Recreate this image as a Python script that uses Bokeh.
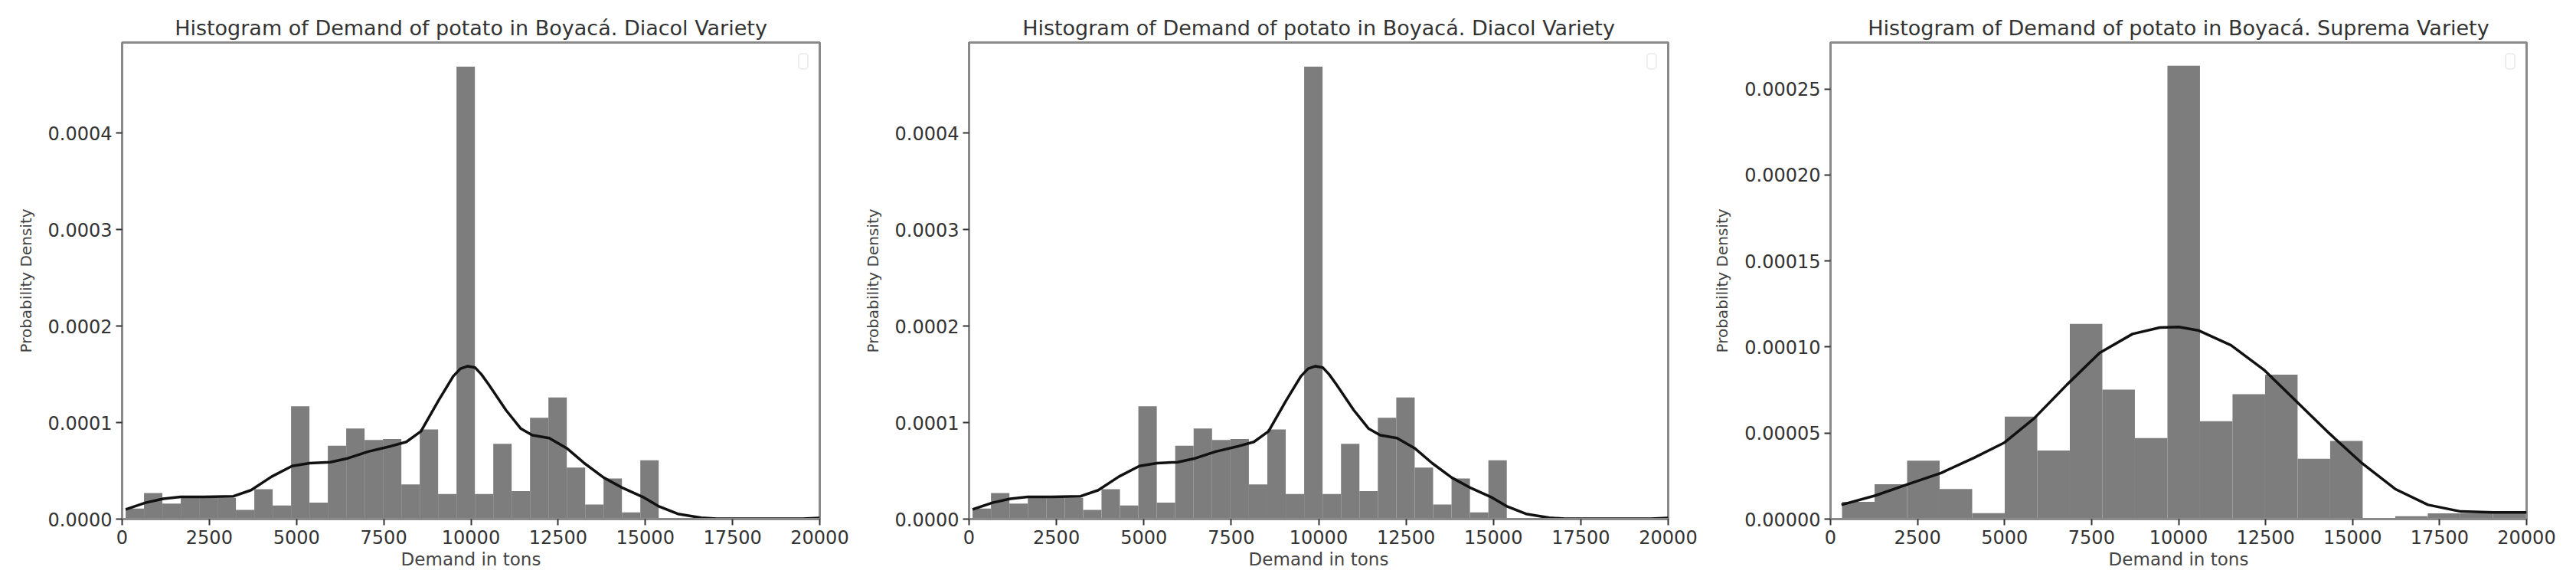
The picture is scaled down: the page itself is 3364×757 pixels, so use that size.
from bokeh.plotting import figure
from bokeh.layouts import row
from bokeh.models import Range1d, FixedTicker, PrintfTickFormatter, Legend, LegendItem, ColumnDataSource
from bokeh.embed import file_html
from bokeh.resources import INLINE

# ---------------- data ----------------
titles = [
    "Histogram of Demand of potato in Boyacá. Diacol Variety",
    "Histogram of Demand of potato in Boyacá. Diacol Variety",
    "Histogram of Demand of potato in Boyacá. Suprema Variety",
]
x_label = "Demand in tons"
y_label = "Probability Density"
x_ticks = [0, 2500, 5000, 7500, 10000, 12500, 15000, 17500, 20000]

# Diacol histogram (density), bins of equal width
diacol_bin_start = 100
diacol_bin_width = 527
diacol_density = [
    0.11e-4, 0.27e-4, 0.16e-4, 0.22e-4, 0.22e-4, 0.22e-4, 0.095e-4, 0.31e-4, 0.14e-4, 1.17e-4,
    0.17e-4, 0.76e-4, 0.94e-4, 0.82e-4, 0.83e-4, 0.36e-4, 0.93e-4, 0.26e-4, 4.69e-4, 0.26e-4,
    0.78e-4, 0.29e-4, 1.05e-4, 1.26e-4, 0.535e-4, 0.15e-4, 0.42e-4, 0.07e-4, 0.61e-4, 0.01e-4,
    0.0, 0.01e-4, 0.0, 0.0, 0.0, 0.0, 0.0, 0.02e-4,
]
diacol_kde_x = [100, 672, 1176, 1680, 2352, 3192, 3696, 4284, 4872, 5376, 5964, 6468, 7056,
                7644, 8148, 8568, 9072, 9492, 9700, 9912, 10122, 10300, 10500, 11004, 11424,
                11760, 12242, 12745, 13248, 13807, 14366, 14925, 15373, 15932, 16600, 17050,
                17500, 18500, 19500, 20000]
diacol_kde_y = [0.10e-4, 0.17e-4, 0.21e-4, 0.23e-4, 0.23e-4, 0.237e-4, 0.30e-4, 0.44e-4,
                0.55e-4, 0.58e-4, 0.59e-4, 0.63e-4, 0.70e-4, 0.75e-4, 0.80e-4, 0.91e-4,
                1.23e-4, 1.48e-4, 1.56e-4, 1.585e-4, 1.57e-4, 1.50e-4, 1.40e-4, 1.13e-4,
                0.94e-4, 0.87e-4, 0.84e-4, 0.735e-4, 0.58e-4, 0.43e-4, 0.32e-4, 0.23e-4,
                0.135e-4, 0.054e-4, 0.014e-4, 0.004e-4, 0.003e-4, 0.003e-4, 0.004e-4, 0.012e-4]
diacol_y_ticks = [0.0, 0.0001, 0.0002, 0.0003, 0.0004]

# Suprema histogram
suprema_bin_start = 330
suprema_bin_width = 935
suprema_density = [
    1.0e-5, 2.03e-5, 3.40e-5, 1.75e-5, 0.35e-5, 5.96e-5, 3.99e-5, 11.34e-5, 7.53e-5, 4.71e-5,
    26.35e-5, 5.69e-5, 7.26e-5, 8.40e-5, 3.51e-5, 4.54e-5, 0.0, 0.17e-5, 0.33e-5, 0.33e-5, 0.33e-5,
]
suprema_kde_x = [314, 1289, 2232, 3175, 4118, 4983, 5848, 6791, 7734, 8677, 9463, 10014,
                 10564, 11507, 12450, 13393, 14337, 15280, 16223, 17166, 18109, 19052, 20000]
suprema_kde_y = [0.83e-5, 1.37e-5, 2.03e-5, 2.68e-5, 3.56e-5, 4.43e-5, 5.85e-5, 7.81e-5,
                 9.66e-5, 10.76e-5, 11.13e-5, 11.17e-5, 10.97e-5, 10.10e-5, 8.68e-5, 6.83e-5,
                 4.97e-5, 3.23e-5, 1.75e-5, 0.83e-5, 0.44e-5, 0.39e-5, 0.39e-5]
suprema_y_ticks = [0.0, 0.00005, 0.00010, 0.00015, 0.00020, 0.00025]

# ---------------- styling ----------------
FONT = "DejaVu Sans"
BAR = "#7d7d7d"
FRAME = "#8a8a8a"
TXT = "#333333"


def make_panel(title, start, width, dens, kx, ky, yticks, ymax, fmt,
               fig_w, b_left, b_right):
    p = figure(width=fig_w, height=745, output_backend="svg", toolbar_location=None,
               x_range=Range1d(0, 20000), y_range=Range1d(0, ymax),
               min_border_left=b_left, min_border_right=b_right,
               min_border_top=55, min_border_bottom=10)
    p.title.text = title
    p.title.align = "center"
    p.title.text_font = FONT
    p.title.text_font_size = "27px"
    p.title.text_font_style = "normal"
    p.title.text_color = TXT
    p.title.standoff = 8

    lefts = [start + i * width for i in range(len(dens))]
    rights = [l + width for l in lefts]
    src = ColumnDataSource(dict(left=lefts, right=rights, top=dens, bottom=[0.0] * len(dens)))
    p.quad(left="left", right="right", top="top", bottom="bottom", source=src,
           fill_color=BAR, line_color=None)
    p.line(kx, ky, line_color="#111111", line_width=3.5)

    dummy = p.scatter(x=[], y=[], alpha=0)
    leg = Legend(items=[LegendItem(label=" ", renderers=[dummy])], location="top_right",
                 border_line_color="#dddddd", border_line_width=2, border_radius=5,
                 background_fill_alpha=0, glyph_width=2, glyph_height=12,
                 label_width=2, label_text_font_size="8px", padding=3, margin=14,
                 spacing=0, label_standoff=0)
    p.add_layout(leg)

    p.grid.visible = False
    p.outline_line_color = FRAME
    p.outline_line_width = 3

    p.xaxis.ticker = FixedTicker(ticks=x_ticks)
    p.yaxis.ticker = FixedTicker(ticks=yticks)
    p.yaxis.formatter = PrintfTickFormatter(format=fmt)
    p.xaxis.axis_label = x_label
    p.yaxis.axis_label = y_label
    for ax in (p.xaxis[0], p.yaxis[0]):
        ax.axis_line_color = FRAME
        ax.axis_line_width = 3
        ax.major_tick_line_color = TXT
        ax.major_tick_line_width = 2
        ax.major_tick_out = 8
        ax.major_tick_in = 0
        ax.minor_tick_line_color = None
        ax.major_label_text_font = FONT
        ax.major_label_text_font_size = "24px"
        ax.major_label_text_color = TXT
        ax.axis_label_text_font = FONT
        ax.axis_label_text_font_style = "normal"
        ax.axis_label_text_color = "#444444"
    p.xaxis.axis_label_text_font_size = "23px"
    p.yaxis.axis_label_text_font_size = "20px"
    p.xaxis.major_label_standoff = 6
    p.xaxis.axis_label_standoff = 4
    p.yaxis.axis_label_standoff = 14
    return p


p1 = make_panel(titles[0], diacol_bin_start, diacol_bin_width, diacol_density,
                diacol_kde_x, diacol_kde_y, diacol_y_ticks, 0.000494, "%.4f", 1117, 159, 47)
p2 = make_panel(titles[1], diacol_bin_start, diacol_bin_width, diacol_density,
                diacol_kde_x, diacol_kde_y, diacol_y_ticks, 0.000494, "%.4f", 1115, 148, 54)
p3 = make_panel(titles[2], suprema_bin_start, suprema_bin_width, suprema_density,
                suprema_kde_x, suprema_kde_y, suprema_y_ticks, 0.000277, "%.5f", 1116, 158, 49)

layout = row(p1, p2, p3, spacing=0)
open("out.html", "w").write(file_html(layout, INLINE))
